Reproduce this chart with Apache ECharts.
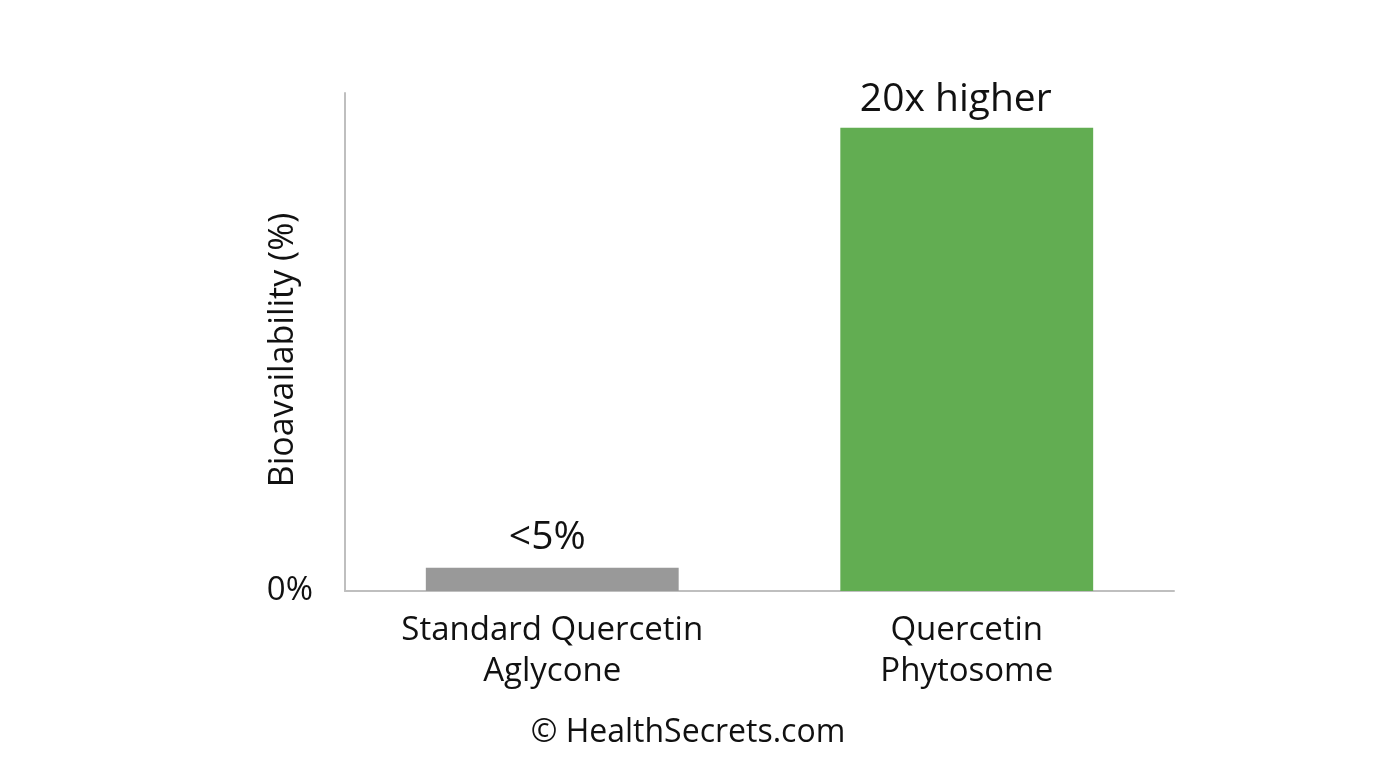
<!DOCTYPE html>
<html>
<head>
<meta charset="utf-8">
<script src="https://cdn.jsdelivr.net/npm/echarts@6/dist/echarts.min.js"></script>
<style>
  html, body { margin: 0; padding: 0; background: #fff; }
  #chart { width: 1376px; height: 768px; }
</style>
</head>
<body>
<div id="chart"></div>
<script>
// data
const categories = ['Standard Quercetin\nAglycone', 'Quercetin\nPhytosome'];
const values = [5, 100];
const barLabels = ['<5%', '20x higher'];
const barColors = ['#999999', '#62ad52'];
const yMax = 107.5;

const FONT = 'Open Sans';

const chart = echarts.init(document.getElementById('chart'));
chart.setOption({
    backgroundColor: '#ffffff',
    animation: false,
    grid: { left: 345, right: 202, top: 93, bottom: 177 },
    xAxis: {
        type: 'category',
        data: categories,
        axisLine: { lineStyle: { color: '#bfbfbf', width: 2 } },
        axisTick: { show: false },
        axisLabel: {
            color: '#111', fontFamily: FONT, fontSize: 33, lineHeight: 41, margin: 19
        }
    },
    yAxis: {
        type: 'value',
        min: 0, max: yMax, interval: yMax,
        name: 'Bioavailability (%)',
        nameLocation: 'middle',
        nameGap: 45,
        nameMoveOverlap: false,
        nameTextStyle: { color: '#111', fontFamily: FONT, fontSize: 34, padding: [0, 16, 0, 0] },
        axisLine: { show: true, lineStyle: { color: '#bfbfbf', width: 2 } },
        axisTick: { show: false },
        splitLine: { show: false },
        axisLabel: {
            color: '#111', fontFamily: FONT, fontSize: 33, margin: 32,
            formatter: v => v === 0 ? '0%' : ''
        }
    },
    series: [{
        type: 'bar',
        barWidth: '61%',
        data: values.map((v, i) => ({
            value: v,
            itemStyle: { color: barColors[i] },
            label: { offset: i === 0 ? [-5, 0] : [-11, 0], distance: i === 0 ? 10 : 8 }
        })),
        label: {
            show: true, position: 'top',
            color: '#111', fontFamily: FONT, fontSize: 39,
            formatter: p => barLabels[p.dataIndex]
        }
    }],
    graphic: [{
        type: 'text',
        x: 688,
        y: 733,
        style: {
            text: '© HealthSecrets.com', fill: '#111',
            font: '32px "Open Sans"', textAlign: 'center', textVerticalAlign: 'middle'
        }
    }]
});
</script>
</body>
</html>
